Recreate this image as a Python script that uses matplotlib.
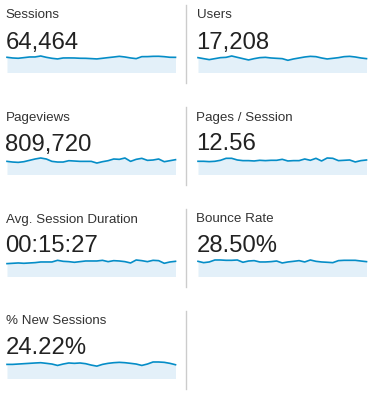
import matplotlib
matplotlib.use("Agg")
import matplotlib.pyplot as plt

plt.rcParams["font.family"] = ["Liberation Sans", "DejaVu Sans"]

# ================================================================
# DATA (daily values, 31 days)
# ================================================================
titles = ["Sessions", "Users", "Pageviews", "Pages / Session",
          "Avg. Session Duration", "Bounce Rate", "% New Sessions"]
totals = ["64,464", "17,208", "809,720", "12.56", "00:15:27", "28.50%", "24.22%"]

sessions = [2147, 2050, 2010, 2098, 2190, 2196, 2331, 2145, 2004, 1915, 2052,
            2058, 2049, 2011, 2003, 1962, 1917, 2009, 2102, 2188, 2285, 2191,
            2055, 1958, 2238, 2244, 2283, 2290, 2236, 2150, 2142]
users = [555, 518, 481, 518, 555, 567, 617, 567, 518, 469, 518, 555, 567, 543,
         530, 518, 456, 506, 543, 580, 604, 592, 543, 506, 530, 555, 592, 604,
         580, 543, 518]
pageviews = [26130, 24790, 24120, 25460, 28140, 30820, 32830, 30820, 26130,
             24790, 24790, 27470, 26800, 26130, 26130, 26130, 22780, 25460,
             27470, 30820, 30150, 32830, 26130, 30150, 32160, 28140, 28810,
             30820, 25460, 27470, 29480]
pages_per_session = [11.72, 11.72, 11.43, 11.72, 12.60, 14.36, 14.36, 12.89,
                     12.31, 12.31, 12.01, 12.60, 12.31, 12.60, 12.60, 13.48,
                     12.01, 12.31, 12.31, 13.77, 12.60, 14.36, 12.01, 14.65,
                     14.36, 12.31, 12.60, 12.89, 11.13, 12.31, 12.89]
avg_duration = [819, 840, 861, 840, 861, 882, 924, 924, 924, 1029, 966, 945,
                903, 945, 987, 987, 987, 1029, 945, 1008, 987, 945, 861, 1050,
                1008, 945, 1029, 1008, 840, 924, 966]
bounce_rate = [28.5, 26.0, 27.3, 31.0, 31.0, 30.4, 30.4, 31.0, 26.7, 29.1,
               29.8, 27.3, 27.3, 27.9, 29.1, 25.4, 27.3, 28.5, 29.8, 27.3,
               31.0, 28.5, 27.3, 26.7, 26.0, 29.8, 30.4, 30.4, 30.4, 29.1, 27.9]
new_sessions = [24.2, 24.2, 24.8, 25.4, 26.0, 26.6, 27.1, 26.0, 24.8, 22.4,
                24.8, 26.6, 26.0, 26.6, 25.4, 23.0, 21.2, 24.2, 26.0, 27.1,
                27.7, 27.1, 26.0, 24.8, 22.4, 24.8, 28.3, 28.3, 27.7, 26.0, 23.6]

series = [sessions, users, pageviews, pages_per_session,
          avg_duration, bounce_rate, new_sessions]

# ================================================================
# LAYOUT (pixels)
# ================================================================
W, H = 375, 395
fig = plt.figure(figsize=(W / 100, H / 100), dpi=100)
fig.patch.set_facecolor("white")

line_color = "#058dc7"
fill_color = "#e3f0f9"
row_h = 102
col_x = [7, 198]
spark_w = 168.5
spark_h = 17.0

def fx(px):
    return px / W

def fy(py):
    return 1 - py / H

for i, (title, total, vals) in enumerate(zip(titles, totals, series)):
    row, col = divmod(i, 2)
    x0 = col_x[col]
    y0 = row * row_h

    fig.text(fx(x0 - 1.5), fy(y0 + 18.5), title, fontsize=9.6,
             color="#333333", va="baseline", ha="left")
    fig.text(fx(x0 - 1.5), fy(y0 + 48.5), total, fontsize=17.2,
             color="#222222", va="baseline", ha="left")

    base = y0 + 72.5
    ax = fig.add_axes([fx(x0), fy(base), fx(spark_w), spark_h / H])
    xs = list(range(len(vals)))
    ax.fill_between(xs, vals, 0, color=fill_color, lw=0)
    ax.plot(xs, vals, color=line_color, lw=1.2, clip_on=False,
            solid_joinstyle="round")
    ax.set_xlim(0, len(vals) - 1)
    ax.set_ylim(0, max(vals) * 1.03)
    ax.axis("off")

# vertical dividers
for row in range(4):
    y0 = row * row_h
    fig.add_artist(plt.Line2D([fx(185.5), fx(185.5)], [fy(y0 + 5), fy(y0 + 82.5)],
                              color="#cccccc", lw=1.0))

fig.savefig("out.png", dpi=100)
